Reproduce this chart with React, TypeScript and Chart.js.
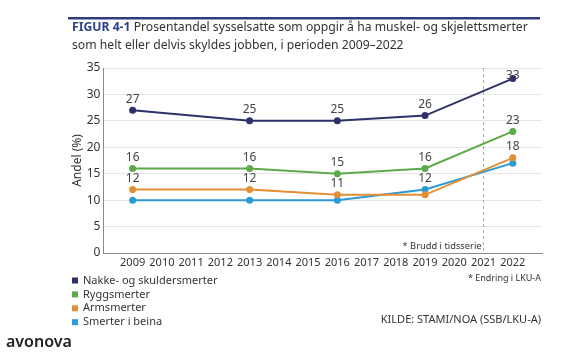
import React, { useEffect, useRef } from "react";
import { Chart, registerables } from "chart.js";

Chart.register(...registerables);

const years = [2009, 2013, 2016, 2019, 2022];
const nakke = [27, 25, 25, 26, 33];
const rygg = [16, 16, 15, 16, 23];
const arm = [12, 12, 11, 11, 18];
const bein = [10, 10, 10, 12, 17];
const nakkeShow = [true, true, true, true, true];
const ryggShow = [true, true, true, true, true];
const armShow = [true, true, true, false, true];
const beinShow = [false, false, false, true, false];
const seriesNames = ["Nakke- og skuldersmerter", "Ryggsmerter", "Armsmerter", "Smerter i beina"];
const seriesColors = ["#2c3268", "#5dab48", "#e38f35", "#2c9ad3"];
const yTicks = [0, 5, 10, 15, 20, 25, 30, 35];
const breakYear = 2021;

const FONT = "'Noto Sans', sans-serif";

const overlay = {
  id: "overlay",
  beforeDatasetsDraw(chart: any) {
    const { ctx, chartArea, scales } = chart;
    const x = scales.x.getPixelForValue(breakYear);
    ctx.save();
    ctx.strokeStyle = "#aaaaaa";
    ctx.lineWidth = 1;
    ctx.setLineDash([3, 3]);
    ctx.beginPath();
    ctx.moveTo(x, chartArea.top);
    ctx.lineTo(x, chartArea.bottom);
    ctx.stroke();
    ctx.restore();
  },
  afterDatasetsDraw(chart: any) {
    const { ctx, scales, chartArea } = chart;
    const shows = [nakkeShow, ryggShow, armShow, beinShow];
    ctx.save();
    ctx.font = `12px ${FONT}`;
    ctx.fillStyle = "#444";
    ctx.textAlign = "center";
    ctx.textBaseline = "middle";
    chart.data.datasets.forEach((ds: any, i: number) => {
      ds.data.forEach((p: any, j: number) => {
        if (!shows[i][j]) return;
        const px = scales.x.getPixelForValue(p.x);
        const py = scales.y.getPixelForValue(p.y);
        ctx.fillText(String(p.y), px, Math.max(chartArea.top + 8, py - 11));
      });
    });
    ctx.restore();
  },
  afterDraw(chart: any) {
    const { ctx, scales, chartArea } = chart;
    ctx.save();
    // top rule
    ctx.fillStyle = "#2f3d7c";
    ctx.fillRect(68, 17, 472, 2.5);
    // title
    ctx.textBaseline = "middle";
    ctx.textAlign = "left";
    ctx.font = `bold 12.2px ${FONT}`;
    ctx.fillStyle = "#2d4389";
    const fig = "FIGUR 4-1";
    ctx.fillText(fig, 72, 28);
    const w = ctx.measureText(fig + " ").width;
    ctx.font = `12.2px ${FONT}`;
    ctx.fillStyle = "#333";
    ctx.fillText("Prosentandel sysselsatte som oppgir å ha muskel- og skjelettsmerter", 72 + w, 28);
    ctx.fillText("som helt eller delvis skyldes jobben, i perioden 2009–2022", 72, 46);
    // break note
    const bx = scales.x.getPixelForValue(breakYear);
    ctx.font = `9.3px ${FONT}`;
    ctx.textAlign = "right";
    ctx.fillStyle = "#333";
    ctx.fillText("* Brudd i tidsserie", bx - 2, chartArea.bottom - 7);
    ctx.font = `9px ${FONT}`;
    ctx.fillText("* Endring i LKU-A", 541, 278);
    ctx.font = `11px ${FONT}`;
    ctx.fillText("KILDE: STAMI/NOA (SSB/LKU-A)", 541, 320);
    // legend
    ctx.textAlign = "left";
    ctx.font = `11px ${FONT}`;
    seriesNames.forEach((name, i) => {
      const y = 280.5 + i * 13.9;
      ctx.fillStyle = seriesColors[i];
      ctx.fillRect(72, y - 3, 6, 6);
      ctx.fillStyle = "#333";
      ctx.fillText(name, 83, y);
    });
    // logo
    ctx.font = `600 16px ${FONT}`;
    ctx.fillStyle = "#222";
    ctx.fillText("avonova", 6, 342);
    ctx.restore();
  },
};

export default function App() {
  const ref = useRef<HTMLCanvasElement>(null);
  useEffect(() => {
    if (!ref.current) return;
    const all = [nakke, rygg, arm, bein];
    const chart = new Chart(ref.current, {
      type: "line",
      data: {
        datasets: all.map((vals, i) => ({
          label: seriesNames[i],
          data: years.map((y, j) => ({ x: y, y: vals[j] })),
          borderColor: seriesColors[i],
          backgroundColor: seriesColors[i],
          borderWidth: 2,
          pointRadius: 3.5,
          pointBorderWidth: 0,
          tension: 0,
        })),
      },
      options: {
        animation: false,
        responsive: false,
        devicePixelRatio: 1,
        layout: { padding: { left: 70, right: 26, top: 68, bottom: 0 } },
        plugins: { legend: { display: false }, tooltip: { enabled: false } },
        scales: {
          x: {
            type: "linear",
            min: 2008,
            max: 2023,
            afterFit(scale: any) {
              scale.height = 101;
            },
            ticks: {
              stepSize: 1,
              padding: 3,
              color: "#333",
              font: { family: FONT, size: 11 },
              maxRotation: 0,
              autoSkip: false,
              callback: (v: any) => (v >= 2009 && v <= 2022 ? String(v) : ""),
            },
            grid: { display: false, drawTicks: false },
            border: { display: true, color: "#8a8a8a", width: 1 },
          },
          y: {
            min: 0,
            max: 35,
            afterFit(scale: any) {
              scale.width = 33.4;
            },
            afterBuildTicks(scale: any) {
              scale.ticks = yTicks.map((v) => ({ value: v }));
            },
            ticks: {
              padding: 3,
              color: "#333",
              font: { family: FONT, size: 12 },
            },
            title: {
              display: true,
              text: "Andel (%)",
              color: "#333",
              font: { family: FONT, size: 12 },
              padding: 0,
            },
            grid: { color: "#e6e6e6", drawTicks: false },
            border: { display: true, color: "#8a8a8a", width: 1 },
          },
        },
      },
      plugins: [overlay],
    });
    return () => chart.destroy();
  }, []);
  return (
    <div style={{ position: "absolute", left: 0, top: 0, width: 568, height: 354, background: "#fff" }}>
      <canvas ref={ref} width={568} height={354} style={{ display: "block" }} />
    </div>
  );
}
